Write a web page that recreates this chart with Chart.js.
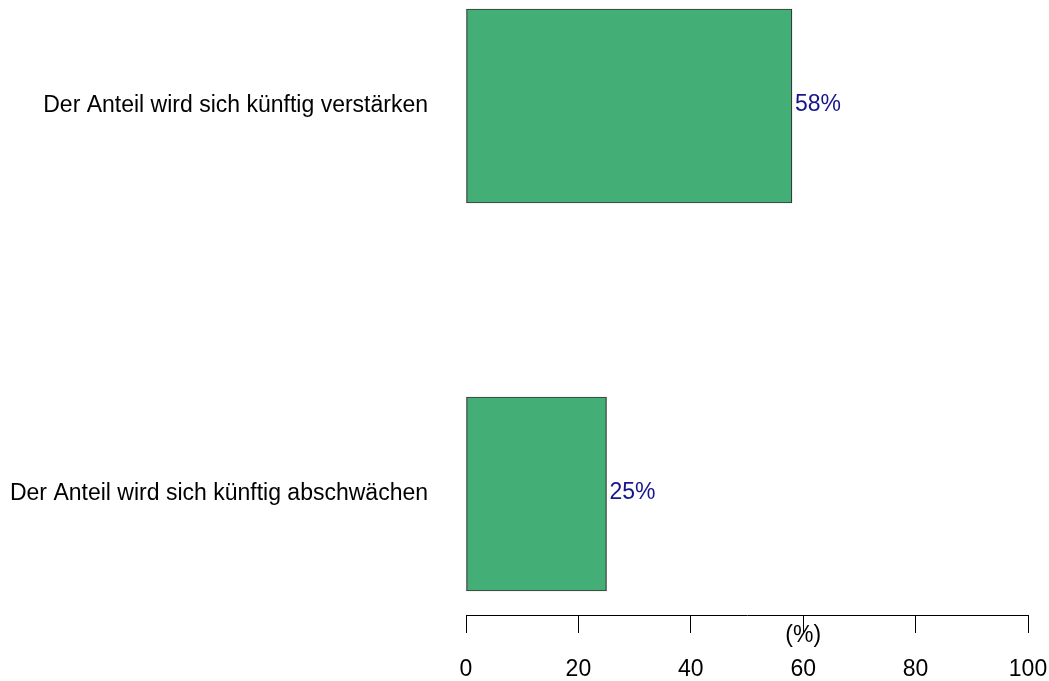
<!DOCTYPE html>
<html>
<head>
<meta charset="utf-8">
<script src="https://cdn.jsdelivr.net/npm/chart.js@4"></script>
<style>
  html, body { margin: 0; padding: 0; background: #fff; }
  #wrap { width: 1049px; height: 681px; }
</style>
</head>
<body>
<div id="wrap"><canvas id="anteil" width="1049" height="681"></canvas></div>
<script>
/* data */
var categories = ['Der Anteil wird sich künftig verstärken', 'Der Anteil wird sich künftig abschwächen'];
var shares = [58, 25];
var xTicks = [0, 20, 40, 60, 80, 100];
var axisTitle = '(%)';

var font = { family: 'Liberation Sans, Arial, sans-serif', size: 23 };

/* value labels + axis title */
var valueLabels = {
    id: 'valueLabels',
    afterDatasetsDraw: function (chart) {
        var ctx = chart.ctx;
        var meta = chart.getDatasetMeta(0);
        ctx.save();
        ctx.font = '23px ' + font.family;
        ctx.fillStyle = '#16168c';
        ctx.textAlign = 'left';
        ctx.textBaseline = 'middle';
        meta.data.forEach(function (bar, i) {
            ctx.fillText(shares[i] + '%', bar.x + 3, bar.y - 1);
        });
        ctx.fillStyle = '#000';
        ctx.textAlign = 'center';
        ctx.fillText(axisTitle, chart.scales.x.getPixelForValue(60), 636);
        ctx.restore();
    }
};

var ctx = document.getElementById('anteil').getContext('2d');
var myChart = new Chart(ctx, {
    type: 'bar',
    data: {
        labels: categories,
        datasets: [{
            data: shares,
            backgroundColor: '#43ae76',
            borderColor: '#333333',
            borderWidth: 1.2,
            borderSkipped: false,
            barThickness: 194,
            clip: false
        }]
    },
    options: {
        indexAxis: 'y',
        responsive: false,
        animation: false,
        layout: {
            padding: { top: 106, bottom: 187, left: 0, right: 21 }
        },
        plugins: {
            legend: { display: false },
            tooltip: { enabled: false }
        },
        scales: {
            x: {
                position: { y: 1.312 },
                min: 0,
                max: 100,
                afterBuildTicks: function (scale) {
                    scale.ticks = xTicks.map(function (v) { return { value: v }; });
                },
                afterFit: function (scale) {
                    scale.paddingLeft = 0;
                    scale.paddingRight = 0;
                },
                grid: {
                    drawOnChartArea: false,
                    drawTicks: true,
                    tickLength: 17,
                    color: '#000'
                },
                border: { display: true, color: '#000', width: 1 },
                ticks: {
                    color: '#000',
                    font: font,
                    padding: 24,
                    maxRotation: 0
                }
            },
            y: {
                offset: false,
                grid: { display: false },
                border: { display: false },
                ticks: {
                    color: '#000',
                    font: font,
                    padding: 30
                },
                afterFit: function (scale) {
                    scale.width = 466;
                }
            }
        }
    },
    plugins: [valueLabels]
});
</script>
</body>
</html>
